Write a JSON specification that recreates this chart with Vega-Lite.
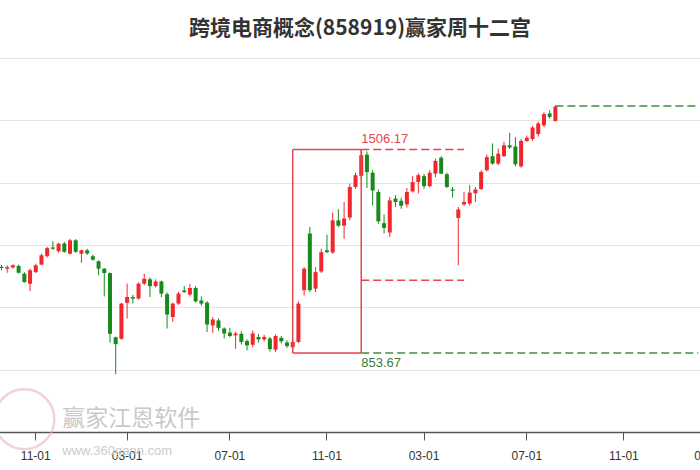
{
  "$schema": "https://vega.github.io/schema/vega-lite/v6.json",
  "width": 700,
  "height": 374,
  "autosize": {"type": "none"},
  "padding": {"left": 0, "right": 0, "top": 58, "bottom": 38},
  "background": "white",
  "title": {"text": "跨境电商概念(858919)赢家周十二宫", "font": "Noto Sans CJK SC", "fontSize": 21, "fontWeight": "bold", "color": "#333333", "dx": 10, "offset": 19, "anchor": "middle"},
  "config": {
    "view": {"stroke": null},
    "axisY": {"grid": true, "labels": false, "ticks": false, "domain": false, "gridColor": "#e3e3e3", "gridWidth": 1, "tickCount": 6, "title": null},
    "axisX": {"grid": false, "domainColor": "#555555", "domainWidth": 1.5, "tickColor": "#555555", "tickSize": 8, "labelFont": "Liberation Sans", "labelFontSize": 12, "labelColor": "#333333", "labelPadding": 10, "labelAngle": 0, "labelOverlap": false, "labelBound": false, "labelFlush": false, "title": null, "zindex": 1}
  },
  "datasets": {
    "candles": [
      {"w":"2023-09-11","o":1130,"c":1126,"h":1137,"l":1119},
      {"w":"2023-09-18","o":1124,"c":1129,"h":1135,"l":1111},
      {"w":"2023-09-25","o":1128,"c":1135,"h":1138,"l":1124},
      {"w":"2023-10-09","o":1133,"c":1111,"h":1137,"l":1108},
      {"w":"2023-10-16","o":1108,"c":1081,"h":1113,"l":1079},
      {"w":"2023-10-23","o":1076,"c":1119,"h":1124,"l":1052},
      {"w":"2023-10-30","o":1113,"c":1135,"h":1140,"l":1110},
      {"w":"2023-11-06","o":1137,"c":1167,"h":1172,"l":1135},
      {"w":"2023-11-13","o":1164,"c":1190,"h":1194,"l":1160},
      {"w":"2023-11-20","o":1192,"c":1188,"h":1212,"l":1185},
      {"w":"2023-11-27","o":1180,"c":1204,"h":1208,"l":1175},
      {"w":"2023-12-04","o":1205,"c":1178,"h":1210,"l":1175},
      {"w":"2023-12-11","o":1172,"c":1215,"h":1220,"l":1170},
      {"w":"2023-12-18","o":1215,"c":1178,"h":1219,"l":1175},
      {"w":"2023-12-25","o":1172,"c":1183,"h":1186,"l":1143},
      {"w":"2024-01-01","o":1183,"c":1173,"h":1188,"l":1168},
      {"w":"2024-01-08","o":1164,"c":1153,"h":1169,"l":1150},
      {"w":"2024-01-15","o":1148,"c":1124,"h":1151,"l":1103},
      {"w":"2024-01-22","o":1124,"c":1110,"h":1126,"l":1035},
      {"w":"2024-01-29","o":1110,"c":915,"h":1112,"l":887},
      {"w":"2024-02-05","o":904,"c":882,"h":906,"l":785},
      {"w":"2024-02-19","o":899,"c":1012,"h":1015,"l":896},
      {"w":"2024-02-26","o":1015,"c":1033,"h":1076,"l":964},
      {"w":"2024-03-04","o":1033,"c":1028,"h":1040,"l":1012},
      {"w":"2024-03-11","o":1028,"c":1076,"h":1080,"l":1025},
      {"w":"2024-03-18","o":1076,"c":1092,"h":1108,"l":1071},
      {"w":"2024-03-25","o":1090,"c":1068,"h":1096,"l":1033},
      {"w":"2024-04-01","o":1068,"c":1083,"h":1090,"l":1064},
      {"w":"2024-04-08","o":1083,"c":1044,"h":1086,"l":1033},
      {"w":"2024-04-15","o":1042,"c":977,"h":1048,"l":932},
      {"w":"2024-04-22","o":969,"c":1012,"h":1015,"l":953},
      {"w":"2024-04-29","o":1012,"c":1044,"h":1050,"l":1008},
      {"w":"2024-05-06","o":1054,"c":1049,"h":1068,"l":1046},
      {"w":"2024-05-13","o":1041,"c":1062,"h":1075,"l":1035},
      {"w":"2024-05-20","o":1062,"c":1019,"h":1068,"l":1015},
      {"w":"2024-05-27","o":1022,"c":1012,"h":1035,"l":1005},
      {"w":"2024-06-03","o":1015,"c":945,"h":1020,"l":921},
      {"w":"2024-06-10","o":942,"c":961,"h":969,"l":918},
      {"w":"2024-06-17","o":958,"c":934,"h":964,"l":925},
      {"w":"2024-06-24","o":932,"c":916,"h":936,"l":900},
      {"w":"2024-07-01","o":919,"c":908,"h":934,"l":904},
      {"w":"2024-07-08","o":910,"c":916,"h":922,"l":867},
      {"w":"2024-07-15","o":915,"c":889,"h":923,"l":881},
      {"w":"2024-07-22","o":892,"c":878,"h":897,"l":862},
      {"w":"2024-07-29","o":880,"c":916,"h":926,"l":872},
      {"w":"2024-08-05","o":905,"c":897,"h":915,"l":887},
      {"w":"2024-08-12","o":897,"c":905,"h":912,"l":890},
      {"w":"2024-08-19","o":900,"c":866,"h":905,"l":858},
      {"w":"2024-08-26","o":864,"c":908,"h":913,"l":857},
      {"w":"2024-09-02","o":902,"c":891,"h":908,"l":884},
      {"w":"2024-09-09","o":887,"c":876,"h":894,"l":870},
      {"w":"2024-09-16","o":872,"c":889,"h":893,"l":853.67},
      {"w":"2024-09-23","o":889,"c":1012,"h":1019,"l":885},
      {"w":"2024-09-30","o":1055,"c":1124,"h":1129,"l":1038},
      {"w":"2024-10-07","o":1237,"c":1055,"h":1258,"l":1049},
      {"w":"2024-10-14","o":1060,"c":1113,"h":1129,"l":1049},
      {"w":"2024-10-21","o":1115,"c":1177,"h":1188,"l":1110},
      {"w":"2024-10-28","o":1183,"c":1177,"h":1233,"l":1174},
      {"w":"2024-11-04","o":1176,"c":1279,"h":1304,"l":1172},
      {"w":"2024-11-11","o":1279,"c":1262,"h":1315,"l":1258},
      {"w":"2024-11-18","o":1262,"c":1285,"h":1338,"l":1220},
      {"w":"2024-11-25","o":1288,"c":1386,"h":1397,"l":1279},
      {"w":"2024-12-02","o":1386,"c":1424,"h":1432,"l":1380},
      {"w":"2024-12-09","o":1422,"c":1488,"h":1506.17,"l":1414},
      {"w":"2024-12-16","o":1490,"c":1434,"h":1500,"l":1383},
      {"w":"2024-12-23","o":1432,"c":1375,"h":1440,"l":1327},
      {"w":"2024-12-30","o":1370,"c":1276,"h":1378,"l":1268},
      {"w":"2025-01-06","o":1270,"c":1255,"h":1298,"l":1237},
      {"w":"2025-01-13","o":1240,"c":1343,"h":1354,"l":1225},
      {"w":"2025-01-20","o":1349,"c":1338,"h":1360,"l":1322},
      {"w":"2025-01-27","o":1342,"c":1326,"h":1352,"l":1316},
      {"w":"2025-02-03","o":1330,"c":1370,"h":1383,"l":1320},
      {"w":"2025-02-10","o":1372,"c":1402,"h":1421,"l":1368},
      {"w":"2025-02-17","o":1402,"c":1424,"h":1430,"l":1365},
      {"w":"2025-02-24","o":1421,"c":1389,"h":1428,"l":1380},
      {"w":"2025-03-03","o":1389,"c":1432,"h":1440,"l":1385},
      {"w":"2025-03-10","o":1429,"c":1470,"h":1477,"l":1418},
      {"w":"2025-03-17","o":1480,"c":1429,"h":1485,"l":1427},
      {"w":"2025-03-24","o":1427,"c":1386,"h":1432,"l":1383},
      {"w":"2025-03-31","o":1378,"c":1374,"h":1386,"l":1352},
      {"w":"2025-04-07","o":1287,"c":1314,"h":1322,"l":1135},
      {"w":"2025-04-14","o":1330,"c":1338,"h":1370,"l":1326},
      {"w":"2025-04-21","o":1333,"c":1368,"h":1392,"l":1327},
      {"w":"2025-04-28","o":1366,"c":1378,"h":1386,"l":1338},
      {"w":"2025-05-05","o":1380,"c":1434,"h":1440,"l":1376},
      {"w":"2025-05-12","o":1440,"c":1482,"h":1490,"l":1436},
      {"w":"2025-05-19","o":1485,"c":1461,"h":1526,"l":1458},
      {"w":"2025-05-26","o":1461,"c":1493,"h":1509,"l":1456},
      {"w":"2025-06-02","o":1485,"c":1520,"h":1531,"l":1482},
      {"w":"2025-06-09","o":1520,"c":1513,"h":1560,"l":1508},
      {"w":"2025-06-16","o":1516,"c":1459,"h":1546,"l":1452},
      {"w":"2025-06-23","o":1452,"c":1534,"h":1540,"l":1448},
      {"w":"2025-06-30","o":1534,"c":1544,"h":1551,"l":1530},
      {"w":"2025-07-07","o":1540,"c":1577,"h":1582,"l":1534},
      {"w":"2025-07-14","o":1556,"c":1590,"h":1596,"l":1548},
      {"w":"2025-07-21","o":1584,"c":1620,"h":1626,"l":1578},
      {"w":"2025-07-28","o":1622,"c":1611,"h":1632,"l":1605},
      {"w":"2025-08-04","o":1598,"c":1644,"h":1648,"l":1596}
    ],
    "box": [
      {"w":"2024-09-16","w2":"2024-09-16","p1":853.67,"p2":1506.17},
      {"w":"2024-12-09","w2":"2024-12-09","p1":853.67,"p2":1506.17},
      {"w":"2024-09-16","w2":"2024-12-09","p1":1506.17,"p2":1506.17},
      {"w":"2024-09-16","w2":"2024-12-09","p1":853.67,"p2":853.67}
    ],
    "redDash": [
      {"w":"2024-12-09","w2":"2025-04-14","p":1506.17},
      {"w":"2024-12-09","w2":"2025-04-14","p":1087}
    ],
    "greenDash": [
      {"w":"2024-12-09","w2":"2026-01-26","p":853.67},
      {"w":"2025-08-04","w2":"2026-01-26","p":1646}
    ],
    "hiLabel": [{"w":"2024-12-09","p":1506.17,"t":"1506.17"}],
    "loLabel": [{"w":"2024-12-09","p":853.67,"t":"853.67"}],
    "mark1": [{"w":"2023-12-04","p":641,"t":"赢家江恩软件"}],
    "mark2": [{"w":"2023-12-04","p":540,"t":"www.360gann.com"}],
    "logo": [{"w":"2023-10-16","p":641}]
  },
  "encoding": {
    "x": {
      "field": "w",
      "type": "ordinal",
      "scale": {
        "type": "band",
        "range": [-1.36, 712.39],
        "paddingInner": 0,
        "paddingOuter": 0,
        "domain": ["2023-09-11","2023-09-18","2023-09-25","2023-10-09","2023-10-16","2023-10-23","2023-10-30","2023-11-06","2023-11-13","2023-11-20","2023-11-27","2023-12-04","2023-12-11","2023-12-18","2023-12-25","2024-01-01","2024-01-08","2024-01-15","2024-01-22","2024-01-29","2024-02-05","2024-02-19","2024-02-26","2024-03-04","2024-03-11","2024-03-18","2024-03-25","2024-04-01","2024-04-08","2024-04-15","2024-04-22","2024-04-29","2024-05-06","2024-05-13","2024-05-20","2024-05-27","2024-06-03","2024-06-10","2024-06-17","2024-06-24","2024-07-01","2024-07-08","2024-07-15","2024-07-22","2024-07-29","2024-08-05","2024-08-12","2024-08-19","2024-08-26","2024-09-02","2024-09-09","2024-09-16","2024-09-23","2024-09-30","2024-10-07","2024-10-14","2024-10-21","2024-10-28","2024-11-04","2024-11-11","2024-11-18","2024-11-25","2024-12-02","2024-12-09","2024-12-16","2024-12-23","2024-12-30","2025-01-06","2025-01-13","2025-01-20","2025-01-27","2025-02-03","2025-02-10","2025-02-17","2025-02-24","2025-03-03","2025-03-10","2025-03-17","2025-03-24","2025-03-31","2025-04-07","2025-04-14","2025-04-21","2025-04-28","2025-05-05","2025-05-12","2025-05-19","2025-05-26","2025-06-02","2025-06-09","2025-06-16","2025-06-23","2025-06-30","2025-07-07","2025-07-14","2025-07-21","2025-07-28","2025-08-04","2025-08-11","2025-08-18","2025-08-25","2025-09-01","2025-09-08","2025-09-15","2025-09-22","2025-09-29","2025-10-06","2025-10-13","2025-10-20","2025-10-27","2025-11-03","2025-11-10","2025-11-17","2025-11-24","2025-12-01","2025-12-08","2025-12-15","2025-12-22","2025-12-29","2026-01-05","2026-01-12","2026-01-19","2026-01-26","2026-02-02","2026-02-23"]
      },
      "axis": {
        "values": ["2023-10-30","2024-02-26","2024-07-01","2024-10-28","2025-02-24","2025-06-30","2025-10-27","2026-02-23"],
        "labelExpr": "indexof(['2023-10-30','2024-10-28','2025-10-27'], datum.value) >= 0 ? '11-01' : (indexof(['2024-02-26','2025-02-24','2026-02-23'], datum.value) >= 0 ? '03-01' : '07-01')"
      }
    }
  },
  "layer": [
    {
      "data": {"name": "logo"},
      "mark": {"type": "point", "shape": "circle", "size": 3600, "filled": false, "stroke": "#e8b0b0", "strokeWidth": 2.5, "opacity": 0.55},
      "encoding": {"y": {"field": "p", "type": "quantitative", "title": null, "scale": {"domain": [600, 1800], "nice": false, "zero": false}}}
    },
    {
      "data": {"name": "mark1"},
      "mark": {"type": "text", "align": "left", "baseline": "middle", "dx": -2, "font": "Noto Sans CJK SC", "fontSize": 23, "color": "#c9c9c9"},
      "encoding": {"y": {"field": "p", "type": "quantitative", "title": null}, "text": {"field": "t"}}
    },
    {
      "data": {"name": "mark2"},
      "mark": {"type": "text", "align": "left", "baseline": "middle", "dx": -2, "font": "Liberation Sans", "fontSize": 13, "color": "#cccccc"},
      "encoding": {"y": {"field": "p", "type": "quantitative", "title": null}, "text": {"field": "t"}}
    },
    {
      "data": {"name": "candles"},
      "mark": {"type": "rule", "strokeWidth": 1},
      "encoding": {
        "y": {"field": "l", "type": "quantitative", "title": null},
        "y2": {"field": "h"},
        "color": {"condition": {"test": "datum.c >= datum.o", "value": "#f0282d"}, "value": "#178a1c"}
      }
    },
    {
      "data": {"name": "candles"},
      "mark": {"type": "bar", "size": 4},
      "encoding": {
        "y": {"field": "o", "type": "quantitative", "title": null},
        "y2": {"field": "c"},
        "color": {"condition": {"test": "datum.c >= datum.o", "value": "#f0282d"}, "value": "#178a1c"}
      }
    },
    {
      "data": {"name": "box"},
      "mark": {"type": "rule", "stroke": "#e2474c", "strokeWidth": 1.5},
      "encoding": {
        "x2": {"field": "w2"},
        "y": {"field": "p1", "type": "quantitative", "title": null},
        "y2": {"field": "p2"}
      }
    },
    {
      "data": {"name": "redDash"},
      "mark": {"type": "rule", "stroke": "#e2474c", "strokeWidth": 1.5, "strokeDash": [8, 4]},
      "encoding": {
        "x2": {"field": "w2"},
        "y": {"field": "p", "type": "quantitative", "title": null}
      }
    },
    {
      "data": {"name": "greenDash"},
      "mark": {"type": "rule", "stroke": "#3f8f3f", "strokeWidth": 1.5, "strokeDash": [8, 4]},
      "encoding": {
        "x2": {"field": "w2"},
        "y": {"field": "p", "type": "quantitative", "title": null}
      }
    },
    {
      "data": {"name": "hiLabel"},
      "mark": {"type": "text", "align": "left", "baseline": "bottom", "dx": 0, "dy": -4, "font": "Liberation Sans", "fontSize": 13, "color": "#e2474c"},
      "encoding": {"y": {"field": "p", "type": "quantitative", "title": null}, "text": {"field": "t"}}
    },
    {
      "data": {"name": "loLabel"},
      "mark": {"type": "text", "align": "left", "baseline": "top", "dx": 0, "dy": 4, "font": "Liberation Sans", "fontSize": 13, "color": "#3d7a3d"},
      "encoding": {"y": {"field": "p", "type": "quantitative", "title": null}, "text": {"field": "t"}}
    }
  ]
}
